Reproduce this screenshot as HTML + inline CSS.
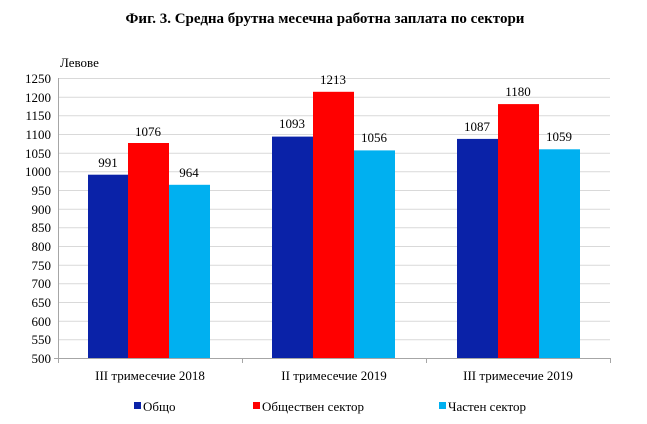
<!DOCTYPE html><html><head><meta charset="utf-8"><style>body{margin:0;background:#fff}svg{display:block}text{font-family:"Liberation Serif",serif;fill:#000}</style></head><body>
<svg width="647" height="424" xmlns="http://www.w3.org/2000/svg">
<text x="325" y="23" font-size="15" font-weight="bold" text-anchor="middle">Фиг. 3. Средна брутна месечна работна заплата по сектори</text>
<text x="60" y="67" font-size="13">Левове</text>
<g stroke="#d9d9d9" stroke-width="1">
<line x1="58" x2="610" y1="78.5" y2="78.5"/><line x1="58" x2="610" y1="97.2" y2="97.2"/><line x1="58" x2="610" y1="115.8" y2="115.8"/><line x1="58" x2="610" y1="134.5" y2="134.5"/><line x1="58" x2="610" y1="153.2" y2="153.2"/><line x1="58" x2="610" y1="171.8" y2="171.8"/><line x1="58" x2="610" y1="190.5" y2="190.5"/><line x1="58" x2="610" y1="209.2" y2="209.2"/><line x1="58" x2="610" y1="227.8" y2="227.8"/><line x1="58" x2="610" y1="246.5" y2="246.5"/><line x1="58" x2="610" y1="265.2" y2="265.2"/><line x1="58" x2="610" y1="283.8" y2="283.8"/><line x1="58" x2="610" y1="302.5" y2="302.5"/><line x1="58" x2="610" y1="321.2" y2="321.2"/><line x1="58" x2="610" y1="339.8" y2="339.8"/>
</g>
<g font-size="13" text-anchor="end">
<text x="51" y="83">1250</text><text x="51" y="102">1200</text><text x="51" y="120">1150</text><text x="51" y="139">1100</text><text x="51" y="158">1050</text><text x="51" y="176">1000</text><text x="51" y="195">950</text><text x="51" y="214">900</text><text x="51" y="232">850</text><text x="51" y="251">800</text><text x="51" y="270">750</text><text x="51" y="288">700</text><text x="51" y="307">650</text><text x="51" y="326">600</text><text x="51" y="344">550</text><text x="51" y="363">500</text>
</g>
<rect x="88" y="174.7" width="40" height="183.3" fill="#0a22a8"/>
<rect x="128" y="143" width="41" height="215" fill="#ff0000"/>
<rect x="169" y="184.8" width="41" height="173.2" fill="#00b0f0"/>
<rect x="272" y="136.6" width="41" height="221.4" fill="#0a22a8"/>
<rect x="313" y="91.8" width="41" height="266.2" fill="#ff0000"/>
<rect x="354" y="150.4" width="41" height="207.6" fill="#00b0f0"/>
<rect x="457" y="138.9" width="41" height="219.1" fill="#0a22a8"/>
<rect x="498" y="104.1" width="41" height="253.9" fill="#ff0000"/>
<rect x="539" y="149.3" width="41" height="208.7" fill="#00b0f0"/>
<g font-size="13" text-anchor="middle">
<text x="108" y="167">991</text><text x="148" y="136">1076</text><text x="189" y="177">964</text>
<text x="292" y="128">1093</text><text x="333" y="84">1213</text><text x="374" y="142">1056</text>
<text x="477" y="131">1087</text><text x="518" y="96">1180</text><text x="559" y="141">1059</text>
</g>
<g stroke="#a6a6a6" stroke-width="1">
<line x1="58.5" x2="58.5" y1="78" y2="358"/>
<line x1="54" x2="610" y1="358.5" y2="358.5"/>
<line x1="242.5" x2="242.5" y1="358" y2="363"/><line x1="426.5" x2="426.5" y1="358" y2="363"/><line x1="610.5" x2="610.5" y1="358" y2="363"/><line x1="58.5" x2="58.5" y1="358" y2="363"/>
</g>
<g font-size="13" text-anchor="middle">
<text x="150" y="380">III  тримесечие 2018</text>
<text x="334" y="380">II тримесечие 2019</text>
<text x="518" y="380">III  тримесечие 2019</text>
</g>
<rect x="134" y="402" width="7" height="7" fill="#0a22a8"/>
<text x="143" y="411" font-size="13">Общо</text>
<rect x="253" y="402" width="7" height="7" fill="#ff0000"/>
<text x="262" y="411" font-size="13">Обществен  сектор</text>
<rect x="439" y="402" width="7" height="7" fill="#00b0f0"/>
<text x="448" y="411" font-size="13">Частен  сектор</text>
</svg>
</body></html>
